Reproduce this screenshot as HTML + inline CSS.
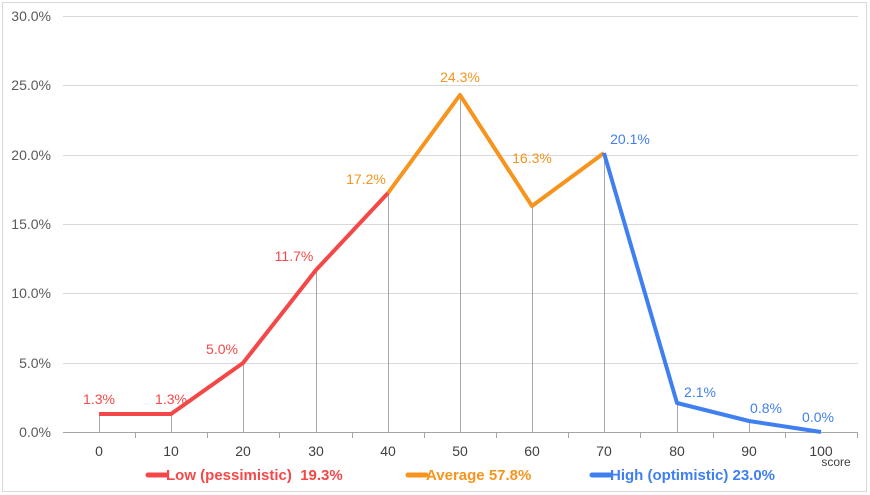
<!DOCTYPE html>
<html><head><meta charset="utf-8"><style>
body{margin:0;background:#fff;}
svg{display:block;font-family:"Liberation Sans",Arial,sans-serif;}
</style></head><body>
<svg width="870" height="495" viewBox="0 0 870 495">
<rect x="2.5" y="2.5" width="864" height="489" fill="#fff" stroke="#d9d9d9"/>
<g stroke="#d9d9d9" stroke-width="1">
<line x1="63" y1="16.5" x2="858" y2="16.5"/>
<line x1="63" y1="85.5" x2="858" y2="85.5"/>
<line x1="63" y1="155.5" x2="858" y2="155.5"/>
<line x1="63" y1="224.5" x2="858" y2="224.5"/>
<line x1="63" y1="293.5" x2="858" y2="293.5"/>
<line x1="63" y1="363.5" x2="858" y2="363.5"/>
</g>
<g stroke="#a6a6a6" stroke-width="1">
<line x1="63" y1="432.5" x2="858" y2="432.5"/>
<line x1="135.5" y1="432" x2="135.5" y2="438"/><line x1="207.5" y1="432" x2="207.5" y2="438"/>
<line x1="279.5" y1="432" x2="279.5" y2="438"/><line x1="352.5" y1="432" x2="352.5" y2="438"/>
<line x1="424.5" y1="432" x2="424.5" y2="438"/><line x1="496.5" y1="432" x2="496.5" y2="438"/>
<line x1="568.5" y1="432" x2="568.5" y2="438"/><line x1="640.5" y1="432" x2="640.5" y2="438"/>
<line x1="713.5" y1="432" x2="713.5" y2="438"/><line x1="785.5" y1="432" x2="785.5" y2="438"/>
<line x1="857.5" y1="432" x2="857.5" y2="438"/>
<line x1="99.5" y1="414" x2="99.5" y2="432"/><line x1="171.5" y1="414" x2="171.5" y2="432"/>
<line x1="243.5" y1="363" x2="243.5" y2="432"/><line x1="316.5" y1="270" x2="316.5" y2="432"/>
<line x1="388.5" y1="193" x2="388.5" y2="432"/><line x1="460.5" y1="95" x2="460.5" y2="432"/>
<line x1="532.5" y1="206" x2="532.5" y2="432"/><line x1="604.5" y1="153" x2="604.5" y2="432"/>
<line x1="677.5" y1="403" x2="677.5" y2="432"/><line x1="749.5" y1="421" x2="749.5" y2="432"/>
</g>
<g font-size="14" fill="#595959" text-anchor="end">
<text x="51" y="21">30.0%</text><text x="51" y="90">25.0%</text><text x="51" y="160">20.0%</text>
<text x="51" y="229">15.0%</text><text x="51" y="298">10.0%</text><text x="51" y="368">5.0%</text>
<text x="51" y="437">0.0%</text>
</g>
<g font-size="14" fill="#404040" text-anchor="middle">
<text x="99" y="456">0</text><text x="171" y="456">10</text><text x="243" y="456">20</text>
<text x="316" y="456">30</text><text x="388" y="456">40</text><text x="460" y="456">50</text>
<text x="532" y="456">60</text><text x="604" y="456">70</text><text x="677" y="456">80</text>
<text x="749" y="456">90</text><text x="821" y="456">100</text>
<text x="836" y="466" font-size="12">score</text>
</g>
<polyline points="99,414 171,414 243,363 316,270 388,193" fill="none" stroke="#f44848" stroke-width="4" stroke-linejoin="round"/>
<polyline points="388,193 460,95 532,206 604,153" fill="none" stroke="#f7941d" stroke-width="4" stroke-linejoin="round"/>
<polyline points="604,153 677,403 749,421 821,432" fill="none" stroke="#3f7ff0" stroke-width="4" stroke-linejoin="round"/>
<g font-size="14" text-anchor="middle">
<g fill="#f44848">
<text x="99" y="404">1.3%</text><text x="171" y="404">1.3%</text><text x="222" y="354">5.0%</text>
<text x="294" y="261">11.7%</text>
</g>
<g fill="#f7941d">
<text x="366" y="184">17.2%</text><text x="460" y="82">24.3%</text><text x="532" y="163">16.3%</text>
</g>
<g fill="#3f7ff0">
<text x="630" y="144">20.1%</text><text x="700" y="397">2.1%</text><text x="766" y="413">0.8%</text>
<text x="818" y="422">0.0%</text>
</g>
</g>
<g font-size="15" font-weight="bold">
<line x1="148" y1="475" x2="166" y2="475" stroke="#f44848" stroke-width="5" stroke-linecap="round"/>
<text x="166" y="480" fill="#f44848">Low (pessimistic)&#160; 19.3%</text>
<line x1="408" y1="475" x2="426" y2="475" stroke="#f7941d" stroke-width="5" stroke-linecap="round"/>
<text x="426" y="480" fill="#f7941d">Average 57.8%</text>
<line x1="592" y1="475" x2="610" y2="475" stroke="#3f7ff0" stroke-width="5" stroke-linecap="round"/>
<text x="610" y="480" fill="#3f7ff0">High (optimistic) 23.0%</text>
</g>
</svg>
</body></html>
